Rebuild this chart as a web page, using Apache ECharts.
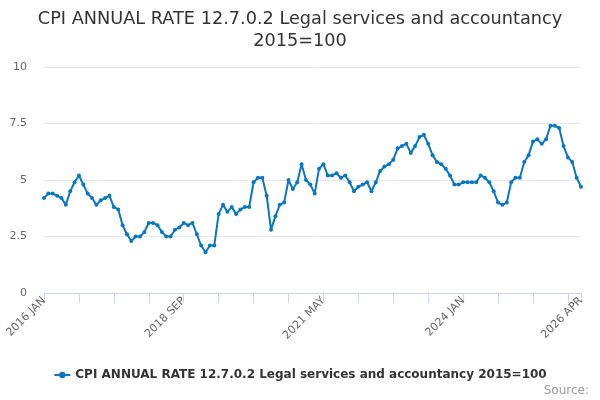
<!DOCTYPE html>
<html>
<head>
<meta charset="utf-8">
<script src="https://cdn.jsdelivr.net/npm/echarts@6/dist/echarts.min.js"></script>
<style>
html,body{margin:0;padding:0;background:#fff;}
#chart{width:600px;height:400px;}
</style>
</head>
<body>
<div id="chart"></div>
<script>
const years = [2016,2017,2018,2019,2020,2021,2022,2023,2024,2025,2026];
const months = ['JAN','FEB','MAR','APR','MAY','JUN','JUL','AUG','SEP','OCT','NOV','DEC'];
const seriesName = 'CPI ANNUAL RATE 12.7.0.2 Legal services and accountancy 2015=100';
const values2016_2017 = [4.2,4.4,4.4,4.3,4.2,3.9,4.5,4.9,5.2,4.8,4.4,4.2,3.9,4.1,4.2,4.3,3.8,3.7,3.0,2.6,2.3,2.5,2.5,2.7];
const values2018_2019 = [3.1,3.1,3.0,2.7,2.5,2.5,2.8,2.9,3.1,3.0,3.1,2.6,2.1,1.8,2.1,2.1,3.5,3.9,3.6,3.8,3.5,3.7,3.8,3.8];
const values2020_2021 = [4.9,5.1,5.1,4.3,2.8,3.4,3.9,4.0,5.0,4.6,4.9,5.7,5.0,4.8,4.4,5.5,5.7,5.2,5.2,5.3,5.1,5.2,4.9,4.5];
const values2022_2023 = [4.7,4.8,4.9,4.5,4.9,5.4,5.6,5.7,5.9,6.4,6.5,6.6,6.2,6.5,6.9,7.0,6.6,6.1,5.8,5.7,5.5,5.2,4.8,4.8];
const values2024_2026 = [4.9,4.9,4.9,4.9,5.2,5.1,4.9,4.5,4.0,3.9,4.0,4.9,5.1,5.1,5.8,6.1,6.7,6.8,6.6,6.8,7.4,7.4,7.3,6.5,6.0,5.8,5.1,4.7];
const yTicks = [0,2.5,5,7.5,10];

const values = [].concat(values2016_2017, values2018_2019, values2020_2021, values2022_2023, values2024_2026);
const categories = [];
for (const y of years) for (const m of months) if (categories.length < values.length) categories.push(y + ' ' + m);
const last = values.length - 1;

const chart = echarts.init(document.getElementById('chart'));
const font = 'DejaVu Sans';
chart.setOption({
  animation: false,
  textStyle: {fontFamily: font},
  title: {
    text: 'CPI ANNUAL RATE 12.7.0.2 Legal services and accountancy\n2015=100',
    left: 'center', top: 3,
    textStyle: {fontFamily: font, fontSize: 17.7, fontWeight: 'normal', color: '#333', lineHeight: 22, align: 'center'}
  },
  grid: {left: 44, right: 19, top: 67, bottom: 107, containLabel: false},
  legend: {
    bottom: 14, left: 'center',
    itemWidth: 16, itemHeight: 8, itemGap: 5,
    textStyle: {fontFamily: font, fontSize: 12, fontWeight: 'bold', color: '#333'},
    data: [seriesName]
  },
  graphic: [{
    type: 'text', right: 11, bottom: 3,
    style: {text: 'Source:', fontFamily: font, fontSize: 12, fill: '#999'}
  }],
  xAxis: {
    type: 'category', data: categories, boundaryGap: false,
    axisLine: {lineStyle: {color: '#ccd6eb'}},
    axisTick: {length: 10, lineStyle: {color: '#ccd6eb'}, interval: (i) => i % 8 === 0 || i === last},
    axisLabel: {rotate: 45, color: '#666', fontSize: 11, fontFamily: font, margin: 6,
      interval: (i) => i % 32 === 0 || i === last},
    splitLine: {show: false}
  },
  yAxis: {
    type: 'value', min: yTicks[0], max: yTicks[yTicks.length-1], interval: 2.5,
    axisLine: {show: false}, axisTick: {show: false},
    axisLabel: {color: '#666', fontSize: 11, fontFamily: font, margin: 17},
    splitLine: {lineStyle: {color: '#e6e6e6'}}
  },
  series: [{
    name: seriesName, type: 'line', data: values,
    symbol: 'circle', symbolSize: 4, showSymbol: true, showAllSymbol: true,
    lineStyle: {width: 2, color: '#0a77c0'},
    itemStyle: {color: '#0a77c0'}
  }]
});
</script>
</body>
</html>
